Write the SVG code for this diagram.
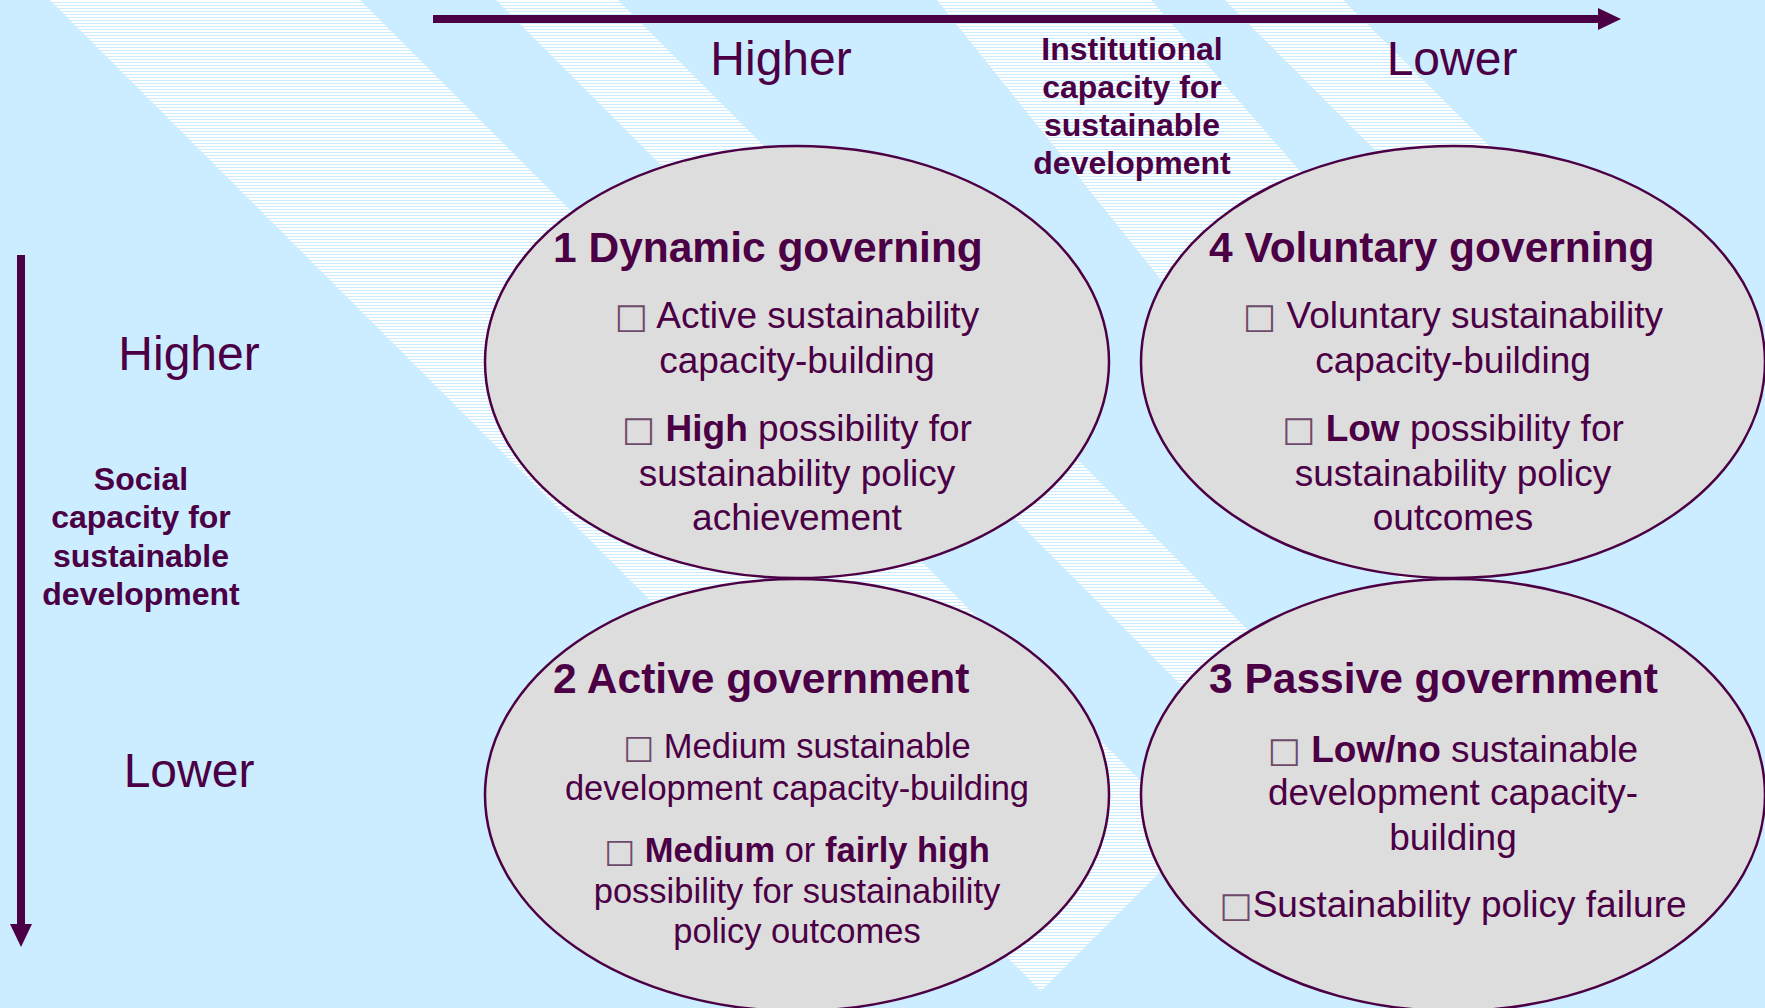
<svg xmlns="http://www.w3.org/2000/svg" width="1765" height="1008" viewBox="0 0 1765 1008">
<defs>
  <pattern id="hatch" patternUnits="userSpaceOnUse" width="8" height="3">
    <rect width="8" height="3" fill="#CCECFF"/>
    <rect width="8" height="2" fill="#FFFFFF"/>
  </pattern>
  <marker id="head" markerUnits="userSpaceOnUse" markerWidth="24" markerHeight="24" refX="0" refY="11" orient="auto">
    <path d="M0,0 L23,11 L0,22 Z" fill="#4B0045"/>
  </marker>
  <style>
    .bg { fill: #CCECFF; }
    .stripe { fill: url(#hatch); }
    .node ellipse { fill: #DDDDDD; stroke: #4B0045; stroke-width: 2.5; }
    text { font-family: "Liberation Sans", Arial, "DejaVu Sans", sans-serif; fill: #4B0045; }
    .title { font-size: 42.5px; font-weight: bold; }
    .body { font-size: 37px; text-anchor: middle; }
    .body2 { font-size: 34.5px; text-anchor: middle; }
    .b { font-weight: bold; }
    .box { fill: #6E4A6A; font-family: "DejaVu Sans", sans-serif; font-size: 0.95em; }
    .axis { font-size: 48px; text-anchor: middle; }
    .axistitle { font-size: 32px; font-weight: bold; text-anchor: middle; }
    .arrow { stroke: #4B0045; stroke-width: 8; fill: none; marker-end: url(#head); }
  </style>
</defs>

<g id="background">
  <rect class="bg" x="0" y="0" width="1765" height="1008"/>
  <polygon class="stripe" points="50,0 360,0 1196,836 1041,991"/>
  <polygon class="stripe" points="496,0 618,0 1325,707 1264,768"/>
  <polygon class="stripe" points="937,0 1151,0 1561,471 1424,608"/>
  <polygon class="stripe" points="1225,0 1343,0 1688,344 1628,403"/>
</g>

<g id="connectors">
  <line class="arrow" x1="433" y1="19" x2="1598" y2="19"/>
  <line class="arrow" x1="21" y1="255" x2="21" y2="924"/>
</g>

<g id="axis-labels">
  <text class="axis" x="781" y="75">Higher</text>
  <text class="axis" x="1452" y="75">Lower</text>
  <text class="axistitle" x="1132" y="60">Institutional</text>
  <text class="axistitle" x="1132" y="98">capacity for</text>
  <text class="axistitle" x="1132" y="136">sustainable</text>
  <text class="axistitle" x="1132" y="174">development</text>
  <text class="axis" x="189" y="370">Higher</text>
  <text class="axis" x="189" y="787">Lower</text>
  <text class="axistitle" x="141" y="490">Social</text>
  <text class="axistitle" x="141" y="528">capacity for</text>
  <text class="axistitle" x="141" y="567">sustainable</text>
  <text class="axistitle" x="141" y="605">development</text>
</g>

<g id="node1" class="node">
  <ellipse cx="797" cy="362" rx="312" ry="216"/>
  <text class="title" x="553" y="262">1 Dynamic governing</text>
  <text class="body" x="797" y="328"><tspan class="box">□</tspan> Active sustainability</text>
  <text class="body" x="797" y="373">capacity-building</text>
  <text class="body" x="797" y="441"><tspan class="box">□</tspan> <tspan class="b">High</tspan> possibility for</text>
  <text class="body" x="797" y="486">sustainability policy</text>
  <text class="body" x="797" y="530">achievement</text>
</g>

<g id="node4" class="node">
  <ellipse cx="1453" cy="362" rx="312" ry="216"/>
  <text class="title" x="1209" y="262">4 Voluntary governing</text>
  <text class="body" x="1453" y="328"><tspan class="box">□</tspan> Voluntary sustainability</text>
  <text class="body" x="1453" y="373">capacity-building</text>
  <text class="body" x="1453" y="441"><tspan class="box">□</tspan> <tspan class="b">Low</tspan> possibility for</text>
  <text class="body" x="1453" y="486">sustainability policy</text>
  <text class="body" x="1453" y="530">outcomes</text>
</g>

<g id="node2" class="node">
  <ellipse cx="797" cy="795" rx="312" ry="216"/>
  <text class="title" x="553" y="693">2 Active government</text>
  <text class="body2" x="797" y="758"><tspan class="box">□</tspan> Medium sustainable</text>
  <text class="body2" x="797" y="800">development capacity-building</text>
  <text class="body2" x="797" y="862"><tspan class="box">□</tspan> <tspan class="b">Medium</tspan> or <tspan class="b">fairly high</tspan></text>
  <text class="body2" x="797" y="903">possibility for sustainability</text>
  <text class="body2" x="797" y="943">policy outcomes</text>
</g>

<g id="node3" class="node">
  <ellipse cx="1453" cy="795" rx="312" ry="216"/>
  <text class="title" x="1209" y="693">3 Passive government</text>
  <text class="body" x="1453" y="762"><tspan class="box">□</tspan> <tspan class="b">Low/no</tspan> sustainable</text>
  <text class="body" x="1453" y="805">development capacity-</text>
  <text class="body" x="1453" y="850">building</text>
  <text class="body" x="1453" y="917"><tspan class="box">□</tspan>Sustainability policy failure</text>
</g>
</svg>
